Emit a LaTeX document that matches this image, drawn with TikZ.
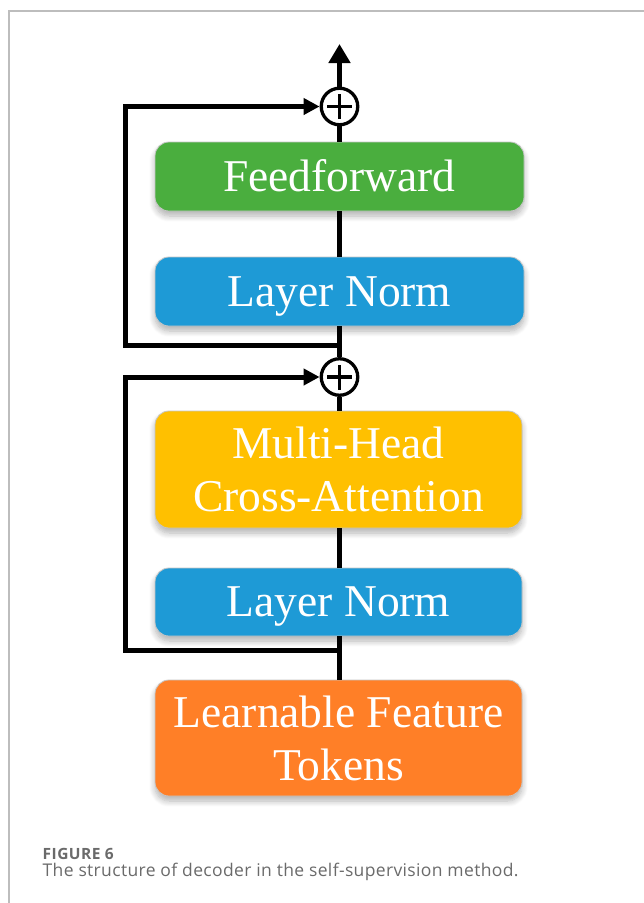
\documentclass[tikz,border=0pt]{standalone}
\usepackage{fontspec}
\setmainfont{Liberation Serif}
\newfontfamily\capfont{Open Sans}
\usetikzlibrary{arrows.meta,shadows.blur}
\definecolor{ffgreen}{HTML}{4AAE3E}
\definecolor{lnblue}{HTML}{1E9AD6}
\definecolor{mhayellow}{HTML}{FFC000}
\definecolor{lftorange}{HTML}{FF7F27}
\definecolor{capgray}{HTML}{6A6A6A}
\definecolor{framegray}{HTML}{BDBDBD}
\definecolor{shadowblue}{HTML}{9CC8EE}
\tikzset{
  blk/.style={rounded corners=14pt, draw=gray!45, line width=0.8pt, text=white,
    font=\fontsize{45.5}{53}\selectfont, align=center, inner sep=0pt,
    blur shadow={shadow xshift=0pt, shadow yshift=-5pt, shadow blur radius=6pt, shadow opacity=30, shadow blur steps=8, fill=shadowblue}},
  oneline/.style={text height=29pt, text depth=0pt},
  wire/.style={line width=5pt, draw=black},
  arr/.style={wire, -{Triangle[length=16pt,width=16pt]}},
  uparr/.style={wire, -{Triangle[length=19pt,width=21pt]}},
  plus/.style={circle, draw=black, line width=3.3pt, fill=white, minimum size=36.5pt, inner sep=0pt,
    path picture={\draw[line width=3.3pt] ([xshift=-12.5pt]path picture bounding box.center) -- ([xshift=12.5pt]path picture bounding box.center);
                  \draw[line width=3.3pt] ([yshift=-12.5pt]path picture bounding box.center) -- ([yshift=12.5pt]path picture bounding box.center);}}
}
\begin{document}
\begin{tikzpicture}[x=1pt,y=-1pt]
\useasboundingbox (0,0) rectangle (644,903);
% frame
\draw[framegray, line width=1.2pt] (9,903) -- (9,11) -- (644,11);
% blocks
\node[blk, oneline, fill=ffgreen, minimum width=369pt, minimum height=69pt] (ff) at (339.5,176.5) {Feedforward};
\node[blk, oneline, fill=lnblue, minimum width=369pt, minimum height=69pt] (ln1) at (339.5,291.5) {Layer Norm};
\node[blk, fill=mhayellow, minimum width=367pt, minimum height=117pt] (mha) at (338.5,469.5) {Multi-Head\\Cross-Attention};
\node[blk, oneline, fill=lnblue, minimum width=367pt, minimum height=68pt] (ln2) at (338.5,602) {Layer Norm};
\node[blk, fill=lftorange, minimum width=367pt, minimum height=116pt] (lft) at (338.5,738) {Learnable Feature\\Tokens};
% adders
\node[plus] (p1) at (339.5,106.5) {};
\node[plus] (p2) at (339.5,377) {};
\coordinate (top) at (339.5,44);
\coordinate (s1) at (339.5,345);
\coordinate (s2) at (339.5,650);
\coordinate (k1) at (125,345);
\coordinate (k2) at (125,650);
% vertical wires
\draw[wire] (lft.north -| s2) -- (ln2.south -| s2);
\draw[wire] (ln2.north -| s2) -- (mha.south -| s2);
\draw[wire] (mha.north -| s2) -- (p2.south);
\draw[wire] (p2.north) -- (ln1.south -| s1);
\draw[wire] (ln1.north -| s1) -- (ff.south -| s1);
\draw[wire] (ff.north -| s1) -- (p1.south);
\draw[uparr] (p1.north) -- (top);
% skip connections
\draw[arr] (s2) -- (k2) |- (p2.west);
\draw[arr] (s1) -- (k1) |- (p1.west);
% caption
\node[anchor=base west, text=capgray, font=\capfont\bfseries\fontsize{15.5}{17}\selectfont\addfontfeatures{LetterSpace=3}, inner sep=0pt] (fig) at (42.5,859.3) {FIGURE 6};
\node[anchor=base west, text=capgray, font=\capfont\fontsize{17.5}{20}\selectfont\addfontfeatures{LetterSpace=2}, inner sep=0pt] (cap) at (42.5,876.7) {The structure of decoder in the self-supervision method.};
\end{tikzpicture}
\end{document}
